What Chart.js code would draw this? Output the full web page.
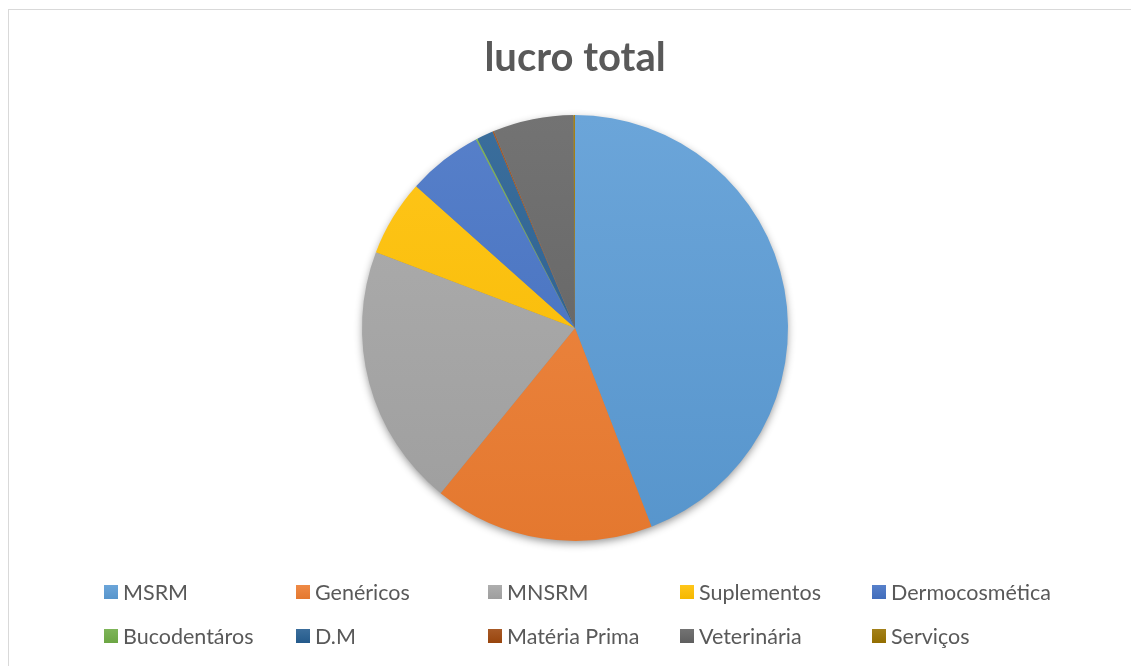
<!DOCTYPE html>
<html><head><meta charset="utf-8">
<script src="https://cdn.jsdelivr.net/npm/chart.js@4.4.1/dist/chart.umd.min.js"></script>
<style>
html,body{margin:0;padding:0;background:#fff;}
#wrap{position:relative;width:1131px;height:666px;overflow:hidden;}
#frame{position:absolute;left:8px;top:9px;width:1140px;height:680px;border:1.5px solid #d9d9d9;box-sizing:border-box;}
#c{position:absolute;left:0;top:0;}
#legend{position:absolute;left:0;top:0;width:1131px;height:666px;pointer-events:none;font-family:Lato,"Open Sans",sans-serif;font-size:21.5px;color:#595959;}
.li{position:absolute;white-space:nowrap;line-height:22px;}
.li span.box{position:absolute;left:0;top:4px;width:14px;height:14px;}
.li span.t{position:absolute;left:19px;top:0;}
</style></head>
<body><div id="wrap"><div id="frame"></div><canvas id="c" width="1131" height="666"></canvas><div id="legend"></div></div>
<script>
const categories = ["MSRM","Genéricos","MNSRM","Suplementos","Dermocosmética","Bucodentáros","D.M","Matéria Prima","Veterinária","Serviços"];
const values = [44.1,16.7,19.9,5.8,5.7,0.12,1.25,0.1,6.1,0.12];
const colors = ["#5B9BD5","#ED7D31","#A5A5A5","#FFC000","#4472C4","#70AD47","#255E91","#9E480E","#636363","#997300"];
const titleText = "lucro total";

function shade(hex, f){
  const n=parseInt(hex.slice(1),16);let r=n>>16,g=(n>>8)&255,b=n&255;
  if(f>0){r+= (255-r)*f; g+=(255-g)*f; b+=(255-b)*f;} else {r*=1+f; g*=1+f; b*=1+f;}
  return `rgb(${Math.round(r)},${Math.round(g)},${Math.round(b)})`;
}

const shadowPlugin = {
  id:'pieShadow',
  beforeDatasetsDraw(chart){
    const arc = chart.getDatasetMeta(0).data[0]; if(!arc) return;
    const ctx=chart.ctx; ctx.save();
    ctx.shadowColor='rgba(0,0,0,0.45)'; ctx.shadowBlur=9; ctx.shadowOffsetY=3;
    ctx.beginPath(); ctx.arc(arc.x,arc.y,arc.outerRadius-1,0,Math.PI*2); ctx.fillStyle='#888'; ctx.fill();
    ctx.restore();
  }
};

const chart = new Chart(document.getElementById('c'),{
  type:'pie',
  data:{labels:categories,datasets:[{data:values,borderWidth:0,
    backgroundColor(ctx){
      const ca=ctx.chart.chartArea; const base=colors[ctx.dataIndex];
      if(!ca) return base;
      const g=ctx.chart.ctx.createLinearGradient(0,ca.top,0,ca.bottom);
      g.addColorStop(0,shade(base,0.1)); g.addColorStop(1,shade(base,-0.04));
      return g;
    }}]},
  options:{responsive:false,animation:false,
    layout:{padding:{left:362,right:343,top:0,bottom:125}},
    plugins:{legend:{display:false},tooltip:{enabled:false},
      title:{display:true,text:titleText,color:'#595959',font:{family:'Lato, "Open Sans", sans-serif',size:40,weight:'bold'},padding:{top:34,bottom:33}}}
  },
  plugins:[shadowPlugin]
});

const leg=document.getElementById('legend');
const colX=[104,296,488,680,872], rowY=[581,625];
categories.forEach((c,i)=>{
  const d=document.createElement('div'); d.className='li';
  d.style.left=colX[i%5]+'px'; d.style.top=rowY[Math.floor(i/5)]+'px';
  d.innerHTML=`<span class="box" style="background:linear-gradient(${shade(colors[i],0.1)},${shade(colors[i],-0.04)})"></span><span class="t">${c}</span>`;
  leg.appendChild(d);
});
</script></body></html>
